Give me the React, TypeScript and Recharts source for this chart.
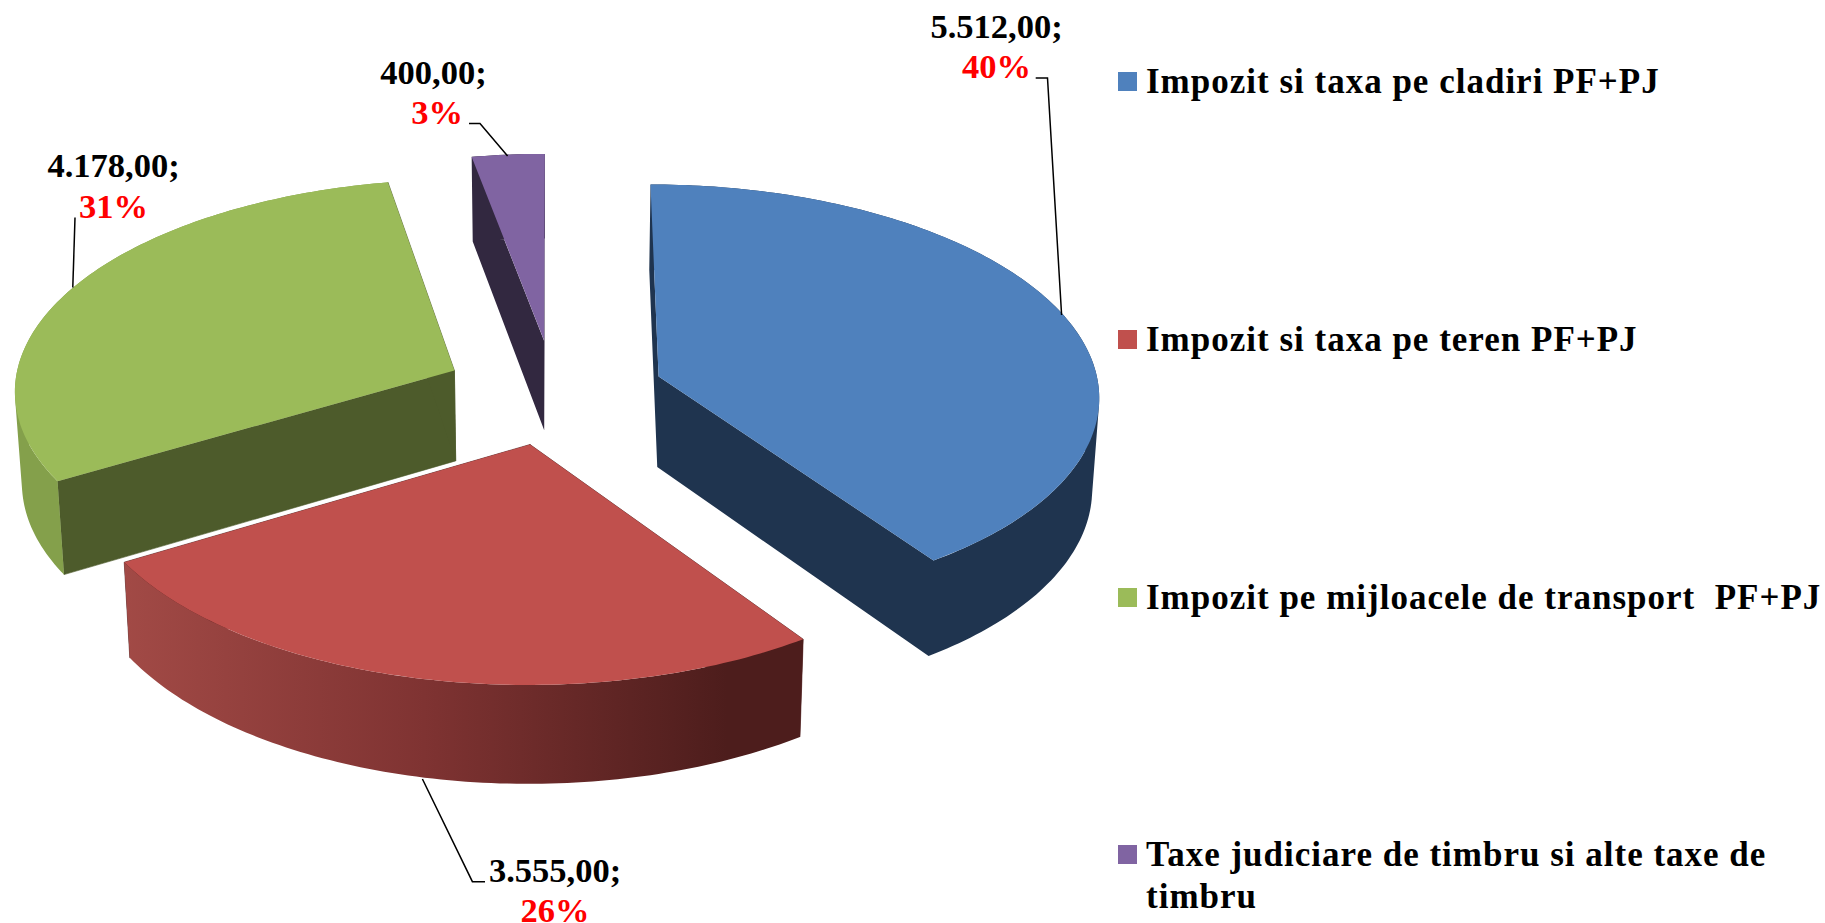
import { PieChart, Pie, Legend } from "recharts";

const categories = [
  "Impozit si taxa pe cladiri PF+PJ",
  "Impozit si taxa pe teren PF+PJ",
  "Impozit pe mijloacele de transport  PF+PJ",
  "Taxe judiciare de timbru si alte taxe de timbru",
];
const values = [5512, 3555, 4178, 400];

const topColors = ["#4f81bd", "#c0504d", "#9bbb59", "#8064a2"];
const wallColors = ["#1f344f", "url(#redWall)", "#84a04b", "#322840"];
const cutColors = ["#1f344f", "#4d1d1c", "#4d5b2b", "#322840"];

const FONT = '"Liberation Serif", "Times New Roman", serif';

// perspective of the tilted disc
const EXPLODE = 0.25;
const TILT = 0.4778;
const PERSPECTIVE = 0.0844;

// label anchors and leader lines, one per slice
const labelCenters = [
  { x: 996.5, y: 37.5, pctShift: 0 },
  { x: 555, y: 881.7, pctShift: 0 },
  { x: 113.5, y: 177, pctShift: 0 },
  { x: 433.5, y: 83.6, pctShift: 3.5 },
];
const leaders = [
  "1035.7,78 1047.5,78 1061.6,315",
  "422.4,779 472.4,881.7 485,881.7",
  "75,217.5 72.8,287.5",
  "469,123.6 480,123.6 507.6,156",
];
const legendTops = [72, 330, 588, 845];

const chartData = categories.map((name, i) => ({
  name,
  value: values[i],
  fill: topColors[i],
}));

type Pt = [number, number];

function formatValue(v: number): string {
  const s = v.toFixed(0);
  const head = s.length > 3 ? s.slice(0, -3) + "." + s.slice(-3) : s;
  return head + ",00;";
}

const rad = (deg: number) => (deg * Math.PI) / 180;

const poly = (pts: Pt[]) => pts.map((p) => p[0].toFixed(1) + "," + p[1].toFixed(1)).join(" ");

// one quad of the outer wall, always wound the same way so the union fills solid
function quadPath(q: Pt[]): string {
  let area = 0;
  q.forEach((p, i) => {
    const n = q[(i + 1) % q.length];
    area += p[0] * n[1] - n[0] * p[1];
  });
  const pts = area < 0 ? [...q].reverse() : q;
  return "M" + pts.map((p) => p[0].toFixed(2) + " " + p[1].toFixed(2)).join("L") + "Z";
}

function Slice3D(props: any) {
  const { cx, cy, outerRadius: R, startAngle, endAngle, midAngle, fill, index } = props;

  const offX = EXPLODE * Math.cos(rad(midAngle));
  const offY = -EXPLODE * Math.sin(rad(midAngle));

  const project = (X: number, Y: number): Pt => {
    const w = 1 - PERSPECTIVE * (Y + offY);
    return [cx + (R * (X + offX)) / w, cy + (R * TILT * (Y + offY)) / w];
  };
  const lower = ([x, y]: Pt): Pt => [x - 0.013 * (x - cx), y + 91 + 0.027 * (y - cy)];

  const arc: Pt[] = [];
  const steps = Math.max(4, Math.ceil(Math.abs(startAngle - endAngle)));
  for (let i = 0; i <= steps; i++) {
    const a = rad(startAngle + ((endAngle - startAngle) * i) / steps);
    arc.push(project(Math.cos(a), -Math.sin(a)));
  }
  const apex = project(0, 0);
  const first = arc[0];
  const last = arc[arc.length - 1];

  const cut = cutColors[index];
  const cutFirst = [apex, first, lower(first), lower(apex)] as Pt[];
  const cutLast = [apex, last, lower(last), lower(apex)] as Pt[];
  // slices whose wall and cut share a colour go in one path, so no seam shows
  const sameColor = cut === wallColors[index];
  const wallPath =
    arc
      .slice(1)
      .map((p, i) => quadPath([arc[i], p, lower(p), lower(arc[i])]))
      .join("") + (sameColor ? quadPath(cutFirst) + quadPath(cutLast) : "");

  return (
    <g>
      {index === 1 && (
        <defs>
          <linearGradient id="redWall" gradientUnits="userSpaceOnUse" x1={121} y1={0} x2={727} y2={0}>
            <stop offset="0%" stopColor="#a24a46" />
            <stop offset="50%" stopColor="#7f3332" />
            <stop offset="100%" stopColor="#4d1d1c" />
          </linearGradient>
        </defs>
      )}
      {!sameColor && <polygon points={poly(cutFirst)} fill={cut} stroke={cut} strokeWidth={0.6} />}
      {!sameColor && <polygon points={poly(cutLast)} fill={cut} stroke={cut} strokeWidth={0.6} />}
      <path d={wallPath} fill={wallColors[index]} fillRule="nonzero" />
      <polygon points={poly([apex, ...arc])} fill={fill} />
    </g>
  );
}

function SliceLabel(props: any) {
  const { index, value, percent } = props;
  const pos = labelCenters[index];
  return (
    <g fontFamily={FONT} fontWeight="bold" fontSize={34.5} textAnchor="middle">
      <polyline points={leaders[index]} fill="none" stroke="#000" strokeWidth={1.5} />
      <text x={pos.x} y={pos.y} fill="#000">
        {formatValue(value)}
      </text>
      <text x={pos.x + pos.pctShift} y={pos.y + 40.5} fill="#ff0000">
        {Math.round(percent * 100) + "%"}
      </text>
    </g>
  );
}

function LegendBox({ payload }: any) {
  const byName = (name: string) => (payload || []).find((p: any) => p.value === name);
  return (
    <div style={{ position: "relative", width: 707, height: 880 }}>
      {categories.map((name, i) => (
        <div key={name} style={{ position: "absolute", left: 0, top: legendTops[i], width: 707 }}>
          <div
            style={{
              position: "absolute",
              left: 0,
              top: 0,
              width: 19,
              height: 19,
              background: byName(name)?.color ?? topColors[i],
            }}
          />
          <div
            style={{
              position: "absolute",
              left: 28,
              top: -11,
              width: 679,
              fontFamily: FONT,
              fontWeight: "bold",
              fontSize: 35,
              lineHeight: "42px",
              letterSpacing: 1,
              whiteSpace: "pre-wrap",
              color: "#000",
            }}
          >
            {name}
          </div>
        </div>
      ))}
    </div>
  );
}

export default function App() {
  return (
    <div style={{ position: "absolute", left: 0, top: 0, width: 1825, height: 923, overflow: "hidden", background: "#fff" }}>
      <PieChart width={1825} height={923} margin={{ top: 0, right: 0, bottom: 0, left: 0 }}>
        <Pie
          data={chartData}
          dataKey="value"
          nameKey="name"
          cx={554}
          cy={392}
          outerRadius={441}
          startAngle={90}
          endAngle={-270}
          stroke="none"
          shape={Slice3D}
          label={SliceLabel}
          labelLine={false}
          isAnimationActive={false}
        />
        <Legend
          content={LegendBox}
          wrapperStyle={{ position: "absolute", left: 1118, top: 0, width: 707, height: 880, bottom: "auto" }}
        />
      </PieChart>
    </div>
  );
}
